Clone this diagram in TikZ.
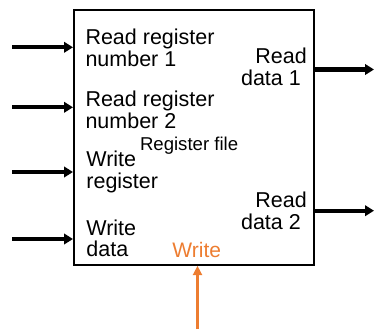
\documentclass[tikz,border=0pt]{standalone}
\usepackage{fontspec}
\setmainfont{Liberation Sans}
\usetikzlibrary{arrows.meta}
\definecolor{wrorange}{RGB}{237,125,49}
\newcommand{\lcol}[1]{\begin{tabular}[t]{@{}l@{}}#1\end{tabular}}
\newcommand{\rcol}[1]{\begin{tabular}[t]{@{}r@{}}#1\end{tabular}}
\begin{document}
\begin{tikzpicture}[x=1pt,y=-1pt,
  port/.style={inner sep=0pt, font=\fontsize{21.5}{21.3}\selectfont},
  bus/.style={line width=4.1pt, -{Triangle[length=9pt,width=10.5pt]}},
  ctrl/.style={line width=2.5pt, draw=wrorange, -{Triangle[length=9.5pt,width=9pt]}}]
\useasboundingbox (0,0) rectangle (374,329);

% register file block
\node[draw, line width=2pt, minimum width=240.3pt, minimum height=254.7pt,
      inner sep=0pt, anchor=north west] (rf) at (73,9) {};

% port labels
\node[port, anchor=base west] (rr1) at (85.3,44.5) {\lcol{Read register\\number 1}};
\node[port, anchor=base west] (rr2) at (85.3,106.5) {\lcol{Read register\\number 2}};
\node[port, anchor=base west] (wr)  at (86.2,166.7) {\lcol{Write\\register}};
\node[port, anchor=base west] (wd)  at (86.2,235) {\lcol{Write\\data}};
\node[port, anchor=base east] (rd1) at (307,63.3) {\rcol{Read\\data 1\kern0.278em}};
\node[port, anchor=base east] (rd2) at (307,207.7) {\rcol{Read\\data 2\kern0.278em}};
\node[inner sep=0pt, anchor=base west, font=\fontsize{18.6}{18.6}\selectfont] (title) at (139.8,150) {Register file};
\node[port, anchor=base west, text=wrorange, font=\fontsize{21}{21}\selectfont] (wlab) at (172.2,257.3) {Write};

% input buses
\coordinate (a1) at (12,47.3);
\coordinate (a2) at (12,107.3);
\coordinate (a3) at (12,172);
\coordinate (a4) at (12,239);
\foreach \c in {a1,a2,a3,a4}
  \draw[bus] (\c) -- (\c -| rf.west);

% output buses
\coordinate (o1) at (374,69.5);
\coordinate (o2) at (374,210.7);
\foreach \c in {o1,o2}
  \draw[bus] (\c -| rf.east) -- (\c);

% write control signal
\coordinate (w0) at (197.5,329);
\draw[ctrl] (w0) -- (w0 |- rf.south);
\end{tikzpicture}
\end{document}
